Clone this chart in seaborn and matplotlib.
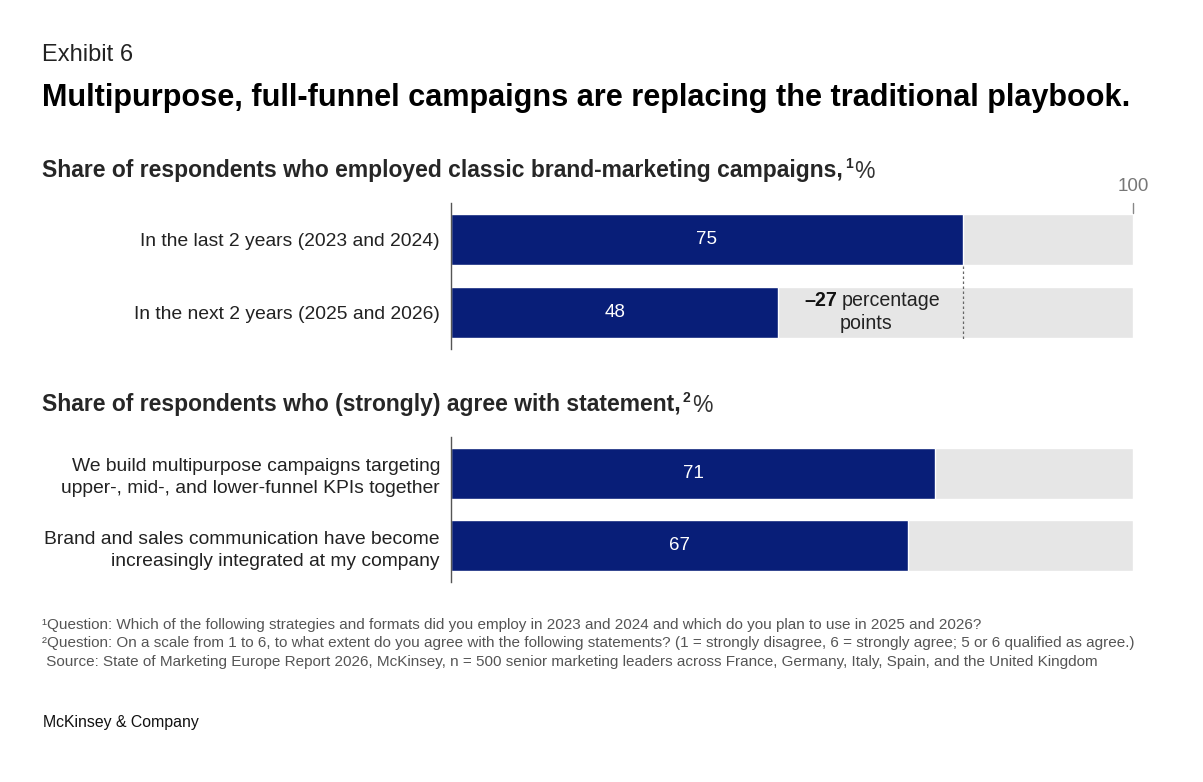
import matplotlib.pyplot as plt
import seaborn as sns
import pandas as pd

# data
top_labels = ["In the last 2 years (2023 and 2024)", "In the next 2 years (2025 and 2026)"]
top_values = [75, 48]
bottom_labels = ["We build multipurpose campaigns targeting\nupper-, mid-, and lower-funnel KPIs together",
                 "Brand and sales communication have become\nincreasingly integrated at my company"]
bottom_values = [71, 67]
max_value = 100
change_pp = top_values[1] - top_values[0]

footnotes = [
    "\u00b9Question: Which of the following strategies and formats did you employ in 2023 and 2024 and which do you plan to use in 2025 and 2026?",
    "\u00b2Question: On a scale from 1 to 6, to what extent do you agree with the following statements? (1 = strongly disagree, 6 = strongly agree; 5 or 6 qualified as agree.)",
    " Source: State of Marketing Europe Report 2026, McKinsey, n = 500 senior marketing leaders across France, Germany, Italy, Spain, and the United Kingdom",
]

NAVY = "#081e78"
GREY = "#e6e6e6"
W, H = 1203, 782

sns.set_style("white")
plt.rcParams["font.family"] = ["Liberation Sans", "DejaVu Sans"]

fig = plt.figure(figsize=(W / 100, H / 100), dpi=100)


def fx(px):
    return px / W


def fy(py):
    return 1 - py / H


def make_axes(top_px, bottom_px):
    return fig.add_axes([fx(451), fy(bottom_px), fx(1133) - fx(451), (bottom_px - top_px) / H])


def draw_bars(ax, labels, values):
    df = pd.DataFrame({"label": labels, "value": values, "full": [max_value] * len(values)})
    sns.barplot(data=df, x="full", y="label", color=GREY, width=0.71, saturation=1, ax=ax)
    sns.barplot(data=df, x="value", y="label", color=NAVY, width=0.71, saturation=1, ax=ax)
    for i, v in enumerate(values):
        ax.text(v / 2, i, str(v), color="white", ha="center", va="center", fontsize=13.5)
    ax.set_xlim(0, max_value)
    ax.set_ylim(len(values) - 0.5, -0.5)
    ax.set_xlabel("")
    ax.set_ylabel("")
    ax.set_xticks([])
    ax.tick_params(axis="y", length=0, pad=8, labelsize=13.9, labelcolor="#222222")
    for s in ["top", "right", "bottom"]:
        ax.spines[s].set_visible(False)
    ax.spines["left"].set_color("#555555")
    ax.spines["left"].set_linewidth(1.0)
    for t in ax.get_yticklabels():
        t.set_multialignment("right")
        t.set_linespacing(1.4)


ax1 = make_axes(203, 349)
draw_bars(ax1, top_labels, top_values)
ax2 = make_axes(437, 582)
draw_bars(ax2, bottom_labels, bottom_values)

# dashed reference line and change annotation
ax1.plot([top_values[0], top_values[0]], [0.36, 1.36], ls=(0, (2, 2)), color="#666666", lw=0.9)
mid = (top_values[1] + top_values[0]) / 2
ax1.text(mid - 4.9, 0.83, "\u2013" + str(abs(change_pp)), fontweight="bold", fontsize=14.1,
         ha="right", va="center", color="#111111")
ax1.text(mid - 4.2, 0.83, "percentage", fontsize=14.1, ha="left", va="center", color="#222222")
ax1.text(mid - 0.6, 1.15, "points", fontsize=14.1, ha="center", va="center", color="#222222")

# 100 marker
ax1.plot([max_value, max_value], [-0.5, -0.36], color="#888888", lw=1, clip_on=False)
ax1.text(max_value, -0.72, "100", ha="center", va="center", fontsize=13.5, color="#777777")

# titles
fig.text(fx(42), fy(55), "Exhibit 6", fontsize=17, color="#222222", va="center")
fig.text(fx(42), fy(98), "Multipurpose, full-funnel campaigns are replacing the traditional playbook.",
         fontsize=22.1, fontweight="bold", va="center", color="black")


def heading(py, bold, sup):
    t = fig.text(fx(42), fy(py), bold, fontsize=16.5, fontweight="bold", va="center")
    fig.canvas.draw()
    x1 = t.get_window_extent().x1
    fig.text(x1 / W + 0.0015, fy(py - 7), sup, fontsize=10, fontweight="bold", va="center")
    fig.text(x1 / W + 0.0095, fy(py), "%", fontsize=16.5, va="center", color="#333333")


heading(171, "Share of respondents who employed classic brand-marketing campaigns,", "1")
heading(405, "Share of respondents who (strongly) agree with statement,", "2")

for i, note in enumerate(footnotes):
    fig.text(fx(42), fy(625 + 18.5 * i), note, fontsize=11.0, color="#555555", va="center")

fig.text(fx(43), fy(723), "McKinsey & Company", fontsize=11.4, color="#111111", va="center")

fig.savefig("out.png", dpi=100)
